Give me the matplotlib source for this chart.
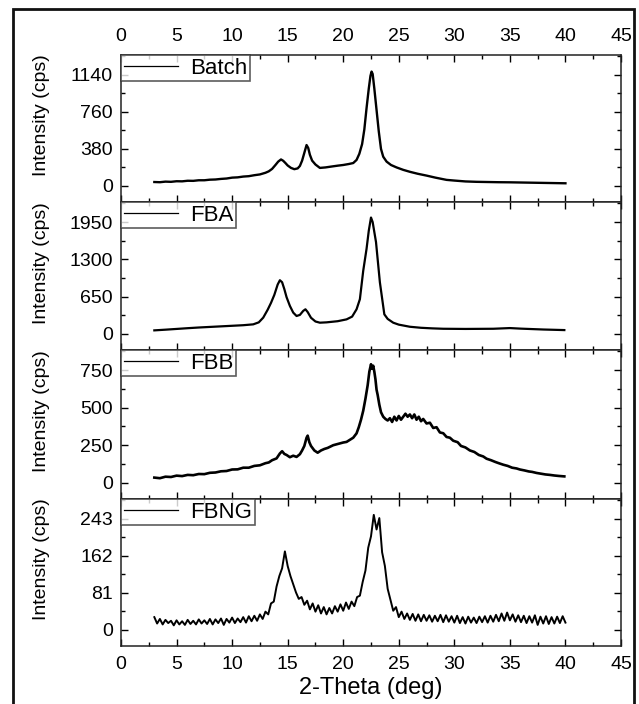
import numpy as np
import matplotlib
matplotlib.use("Agg")
import matplotlib.pyplot as plt
from matplotlib.patches import Rectangle
from matplotlib.ticker import MultipleLocator, FixedLocator

plt.rcParams['font.family'] = ['Liberation Sans', 'DejaVu Sans']

# ---------------- data ----------------
batch_x = [3.0, 3.5, 4, 4.5, 5, 5.5, 6, 6.5, 7, 7.5, 8, 8.5, 9, 9.5, 10, 10.5, 11, 11.5, 12, 12.5,
           13, 13.3, 13.6, 13.9, 14.15, 14.4, 14.6, 14.8, 15.0, 15.3, 15.6, 15.9, 16.1, 16.3, 16.5,
           16.7, 16.85, 17.0, 17.2, 17.5, 17.9, 18.4, 19, 19.5, 20, 20.5, 20.9, 21.2, 21.45, 21.7,
           21.9, 22.1, 22.3, 22.45, 22.55, 22.65, 22.8, 23.0, 23.2, 23.4, 23.6, 23.9, 24.3, 24.8,
           25.4, 26, 26.7, 27.5, 28.3, 29.3, 30, 31, 32, 33, 34, 35, 36, 37, 38, 39, 40]
batch_y = [40, 38, 44, 42, 48, 47, 53, 52, 58, 58, 64, 66, 72, 76, 85, 88, 96, 100, 110, 118,
           135, 150, 175, 215, 250, 272, 258, 235, 210, 185, 172, 180, 205, 260, 340,
           420, 390, 320, 260, 220, 185, 190, 200, 208, 215, 225, 235, 267, 330, 430,
           580, 800, 1000, 1130, 1175, 1150, 1000, 780, 560, 380, 300, 250, 215, 190,
           165, 145, 125, 106, 85, 62, 55, 46, 42, 40, 38, 37, 35, 33, 31, 29, 27]

fba_x = [3.0, 4, 5, 6, 7, 8, 9, 10, 11, 11.9, 12.4, 12.8, 13.2, 13.5, 13.8, 14.1, 14.3, 14.5, 14.7,
         14.9, 15.2, 15.5, 15.8, 16.1, 16.4, 16.6, 16.8, 17.1, 17.5, 17.9, 18.5, 19.5, 20.3, 20.8,
         21.2, 21.5, 21.8, 22.1, 22.3, 22.5, 22.65, 22.95, 23.3, 23.7, 24.0, 24.5, 25.0, 26.0, 27,
         28, 29, 31, 33.5, 35, 36, 38, 39.9]
fba_y = [60, 72, 85, 98, 110, 120, 130, 140, 150, 165, 200, 282, 420, 540, 680, 860, 935, 900, 780,
         640, 487, 370, 311, 330, 400, 428, 380, 280, 215, 194, 200, 220, 252, 300,
         428, 604, 1100, 1484, 1800, 2030, 1950, 1602, 898, 340, 260, 194, 160, 123, 105,
         95, 88, 85, 88, 100, 90, 75, 65]

fbb_x = [3.0, 3.5, 4.0, 4.5, 5.0, 5.5, 6.0, 6.5, 7.0, 7.5, 8.0, 8.5, 9.0, 9.5, 10.0, 10.5, 11.0, 11.5,
         12.0, 12.5, 13.0, 13.3, 13.6, 14.0, 14.3, 14.5, 14.7, 14.9, 15.2, 15.5, 15.8, 16.1, 16.3,
         16.5, 16.7, 16.8, 16.95, 17.1, 17.4, 17.7, 18.0, 18.3, 18.6, 19.1, 19.5, 20.0, 20.3, 20.6,
         20.9, 21.2, 21.4, 21.6, 21.8, 22.0, 22.2, 22.35, 22.5, 22.6, 22.7, 22.8, 22.9, 23.0, 23.1,
         23.25, 23.4, 23.6, 23.8, 24.0, 24.2, 24.4, 24.6, 24.8, 25.0, 25.2, 25.4, 25.6, 25.8, 26.0,
         26.2, 26.4, 26.6, 26.8, 27.0, 27.2, 27.5, 27.8, 28.1, 28.4, 28.7, 29.0, 29.3, 29.6, 29.9,
         30.3, 30.6, 31.0, 31.4, 31.8, 32.2, 32.6, 32.9, 33.3, 33.7, 34.0, 34.4, 34.8, 35.2, 35.6,
         35.9, 36.3, 36.7, 37.0, 37.4, 37.8, 38.2, 38.6, 39.0, 39.4, 39.9]
fbb_y = [34, 30, 40, 38, 47, 44, 52, 50, 58, 57, 66, 68, 76, 78, 88, 89, 100, 100,
         112, 116, 130, 135, 150, 162, 195, 210, 192, 185, 170, 180, 172, 190, 215,
         245, 300, 314, 270, 245, 215, 200, 215, 225, 232, 250, 258, 268, 272, 286,
         300, 329, 370, 420, 480, 560, 650, 740, 790, 760, 780, 740, 690, 620, 585,
         520, 470, 440, 425, 415, 430, 405, 440, 415, 445, 420, 440, 460, 440, 455,
         430, 455, 420, 440, 410, 425, 395, 400, 365, 370, 335, 330, 305, 300, 280,
         270, 245, 235, 215, 205, 185, 175, 160, 150, 138, 130, 120, 112, 100, 95,
         88, 82, 75, 72, 65, 60, 55, 52, 48, 45, 42]

fbng_x = np.arange(3.0, 40.0001, 0.25)
fbng_y = [28, 14, 24, 12,   22, 15, 20, 10,   21, 12, 19, 11,   22, 13, 20, 12,
          23, 14, 21, 13,   24, 12, 23, 15,   25, 11, 24, 16,   27, 15, 25, 17,
          28, 16, 30, 19,   31, 20, 34, 24,   40, 34, 58, 62,   95, 118, 135, 172,
          140, 118, 100, 82, 68, 72, 55, 64,  45, 58, 40, 54,   36, 50, 34, 48,
          36, 52, 40, 56,   42, 60, 46, 62,   52, 72, 75, 105,  130, 180, 205, 252,
          220, 245, 170, 140, 90, 66, 42, 50, 28, 40, 24, 36,   22, 35, 20, 34,
          19, 33, 20, 32,   18, 31, 19, 33,   17, 32, 18, 30,   16, 31, 15, 28,
          14, 29, 16, 27,   15, 29, 17, 30,   16, 31, 18, 33,   19, 36, 20, 38,
          21, 34, 18, 32,   17, 31, 15, 30,   16, 32, 11, 29,   14, 30, 13, 28,
          14, 29, 15, 30,   16]

names = ["Batch", "FBA", "FBB", "FBNG"]
series_x = [batch_x, fba_x, fbb_x, fbng_x]
series_y = [batch_y, fba_y, fbb_y, fbng_y]
ytick_sets = [[0, 380, 760, 1140], [0, 650, 1300, 1950], [0, 250, 500, 750], [0, 81, 162, 243]]
xticks = [0, 5, 10, 15, 20, 25, 30, 35, 40, 45]

# ---------------- figure ----------------
W, H = 639, 704
fig = plt.figure(figsize=(W / 100, H / 100), dpi=100)

left_px, right_px = 121, 621
edges_px = [55, 202, 350, 499, 646]
lws = [1.7, 1.6, 1.9, 1.4]

for i in range(4):
    top = 1 - edges_px[i] / H
    bot = 1 - edges_px[i + 1] / H
    ax = fig.add_axes([left_px / W, bot, (right_px - left_px) / W, top - bot])
    ax.plot(series_x[i], series_y[i], color='black', lw=lws[i], label=names[i])
    ax.set_xlim(0, 45)
    M = ytick_sets[i][-1]
    ax.set_ylim(-0.145 * M, 1.18 * M)
    ax.yaxis.set_major_locator(FixedLocator(ytick_sets[i]))
    ax.yaxis.set_minor_locator(FixedLocator([M / 6, M / 2, 5 * M / 6, 7 * M / 6]))
    ax.xaxis.set_major_locator(FixedLocator(xticks))
    ax.xaxis.set_minor_locator(MultipleLocator(2.5))
    ax.tick_params(which='both', direction='in', top=True, right=True, bottom=True, left=True,
                   colors='black', width=1.0)
    ax.tick_params(which='major', length=5)
    ax.tick_params(which='minor', length=3)
    ax.tick_params(axis='y', labelsize=14, pad=6)
    ax.tick_params(axis='x', labelsize=14, labelbottom=(i == 3), labeltop=(i == 0),
                   pad=7)
    for s in ax.spines.values():
        s.set_linewidth(1.1)
        s.set_color('#222222')
    ax.set_ylabel("Intensity (cps)", fontsize=14)
    ax.yaxis.set_label_coords(-0.142, 0.59)
    leg = ax.legend(loc='upper left', fontsize=16, frameon=True, fancybox=False,
                    borderaxespad=0.0, borderpad=0.12, handlelength=2.45,
                    handletextpad=0.55, labelspacing=0.1)
    leg.get_frame().set_edgecolor('#333333')
    leg.get_frame().set_linewidth(1.2)
    for ln in leg.get_lines():
        ln.set_linewidth(0.9)
    if i == 3:
        ax.set_xlabel("2-Theta (deg)", fontsize=17, labelpad=3)

# outer frame
fig.patches.append(Rectangle((13 / W, -0.02), (634 - 13) / W, 1 - 9 / H + 0.02,
                             transform=fig.transFigure, fill=False,
                             edgecolor='#111111', linewidth=2.0))

fig.savefig("out.png", dpi=100)
